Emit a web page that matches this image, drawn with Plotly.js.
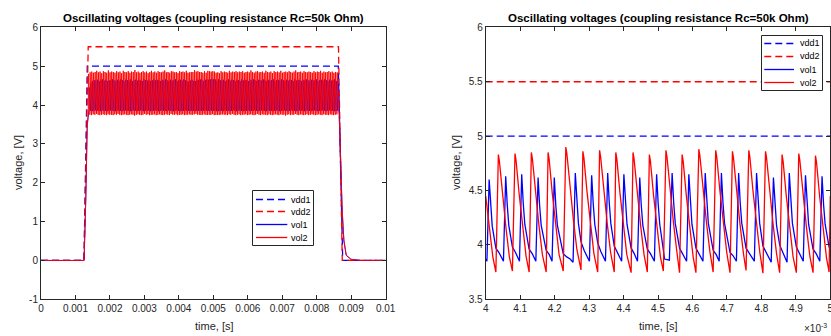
<!DOCTYPE html>
<html><head><meta charset="utf-8">
<script src="https://cdn.plot.ly/plotly-3.0.1.min.js"></script>
<style>html,body{margin:0;padding:0;background:#fff;overflow:hidden}</style>
</head><body><div id="chart" style="width:831px;height:336px"></div>
<script>
// ---------------- DATA ----------------
const titleText = 'Oscillating voltages (coupling resistance Rc=50k Ohm)';
const xLabel = 'time, [s]';
const yLabel = 'voltage, [V]';
const seriesNames = ['vdd1', 'vdd2', 'vol1', 'vol2'];
const leftYTickVals = [-1, 0, 1, 2, 3, 4, 5, 6];
const leftYTickText = ['-1', '0', '1', '2', '3', '4', '5', '6'];
const rightXTickVals = [4, 4.1, 4.2, 4.3, 4.4, 4.5, 4.6, 4.7, 4.8, 4.9, 5];
const rightXTickText = ['4', '4.1', '4.2', '4.3', '4.4', '4.5', '4.6', '4.7', '4.8', '4.9', '5'];
const rightXExponent = '×10<sup>-3</sup>';

// Left panel: full run, time in s
const vdd1T = [0, 0.001247, 0.001343, 0.008625, 0.008753, 0.01];
const vdd1V = [0, 0, 5, 5, 0, 0];
const vdd2T = [0, 0.001247, 0.00137, 0.00863, 0.00874, 0.01];
const vdd2V = [0, 0, 5.5, 5.5, 0, 0];
const volRiseT = [0, 0.00125, 0.00130, 0.00134];
const vol1RiseV = [0, 0, 1.6, 3.5];
const vol2RiseV = [0, 0, 1.6, 3.4];
const volFallT = [0.00865, 0.00869, 0.008738, 0.008787, 0.008855, 0.00899, 0.00925, 0.01];
const vol1FallV = [3.85, 2.55, 1.25, 0.50, 0.13, 0.03, 0, 0];
const vol2FallV = [3.80, 2.60, 1.30, 0.53, 0.14, 0.03, 0, 0];
// oscillation cycles (sample spacing of the oscillation = one period)
const oscStart = 0.00137, oscPeriod = 0.0000481;
const vol2PeakL = [
4.80,4.84,4.86,4.83,4.85,4.88,4.84,4.86,4.82,4.87,4.85,4.83,4.89,4.84,4.86,
4.85,4.83,4.87,4.84,4.86,4.82,4.88,4.85,4.84,4.87,4.83,4.86,4.85,4.90,4.84,
4.86,4.83,4.85,4.87,4.84,4.86,4.82,4.85,4.88,4.84,4.86,4.83,4.87,4.85,4.84,
4.86,4.89,4.84,4.85,4.83,4.87,4.86,4.84,4.85,4.82,4.87,4.85,4.86,4.84,4.88,
4.83,4.84,4.85,4.85,4.90,4.86,4.87,4.85,4.85,4.83,4.87,4.83,4.88,4.87,4.86,
4.87,4.86,4.83,4.84,4.82,4.87,4.84,4.86,4.85,4.83,4.88,4.84,4.86,4.85,4.87,
4.84,4.86,4.85,4.87,4.83,4.85,4.86,4.84,4.89,4.85,4.83,4.86,4.87,4.84,4.85,
4.86,4.83,4.88,4.85,4.84,4.86,4.82,4.87,4.85,4.86,4.84,4.88,4.83,4.85,4.86,
4.84,4.87,4.85,4.83,4.86,4.89,4.84,4.85,4.86,4.83,4.87,4.85,4.84,4.86,4.85,
4.83,4.87,4.84,4.86,4.85,4.88,4.83,4.86,4.84,4.85,4.87,4.84,4.86,4.83,4.85,
4.84];
const vol2TroughL = [
3.76,3.75,3.74,3.76,3.75,3.77,3.75,3.74,3.75,3.76,3.75,3.74,3.76,3.75,3.75,
3.74,3.76,3.75,3.77,3.75,3.74,3.75,3.76,3.75,3.74,3.75,3.76,3.75,3.73,3.75,
3.76,3.75,3.74,3.75,3.77,3.75,3.76,3.74,3.75,3.75,3.76,3.74,3.75,3.76,3.75,
3.74,3.75,3.76,3.75,3.74,3.77,3.75,3.75,3.76,3.74,3.75,3.75,3.76,3.74,3.75,
3.75,3.76,3.75,3.75,3.76,3.77,3.75,3.75,3.745,3.75,3.76,3.745,3.745,3.75,3.745,
3.765,3.74,3.745,3.745,3.745,3.75,3.76,3.75,3.75,3.74,3.76,3.75,3.77,3.75,3.74,
3.75,3.76,3.74,3.75,3.75,3.76,3.74,3.75,3.76,3.75,3.74,3.75,3.77,3.75,3.74,
3.76,3.75,3.75,3.74,3.76,3.75,3.74,3.75,3.76,3.75,3.74,3.76,3.75,3.75,3.73,
3.75,3.76,3.74,3.75,3.75,3.77,3.75,3.74,3.76,3.75,3.74,3.75,3.76,3.74,3.75,
3.76,3.75,3.74,3.75,3.76,3.75,3.74,3.76,3.75,3.75,3.74,3.76,3.75,3.74,3.75,
3.76];
const vol1PeakL = [
4.45,4.58,4.62,4.64,4.63,4.65,4.62,4.64,4.66,4.63,4.65,4.62,4.64,4.63,4.66,
4.64,4.62,4.65,4.63,4.66,4.64,4.62,4.65,4.64,4.63,4.66,4.62,4.64,4.65,4.63,
4.65,4.63,4.62,4.66,4.64,4.63,4.65,4.62,4.64,4.66,4.63,4.65,4.64,4.62,4.65,
4.63,4.66,4.64,4.62,4.65,4.63,4.64,4.66,4.62,4.64,4.65,4.63,4.66,4.64,4.62,
4.60,4.63,4.65,4.62,4.62,4.66,4.64,4.66,4.65,4.62,4.65,4.66,4.65,4.66,4.66,
4.66,4.66,4.62,4.66,4.64,4.63,4.65,4.62,4.64,4.66,4.63,4.65,4.64,4.62,4.65,
4.64,4.62,4.66,4.63,4.65,4.64,4.62,4.65,4.63,4.66,4.64,4.62,4.65,4.64,4.63,
4.66,4.64,4.62,4.65,4.63,4.64,4.66,4.62,4.64,4.65,4.63,4.66,4.64,4.62,4.65,
4.63,4.65,4.64,4.62,4.66,4.63,4.65,4.64,4.62,4.65,4.63,4.66,4.64,4.62,4.65,
4.64,4.63,4.66,4.62,4.64,4.65,4.63,4.66,4.64,4.62,4.65,4.63,4.64,4.66,4.62,
4.64];
const vol1TroughL = [
3.86,3.85,3.84,3.85,3.86,3.85,3.85,3.84,3.86,3.85,3.85,3.84,3.85,3.86,3.85,
3.85,3.84,3.86,3.85,3.85,3.84,3.85,3.86,3.85,3.85,3.84,3.85,3.86,3.85,3.84,
3.85,3.86,3.85,3.84,3.85,3.85,3.86,3.84,3.85,3.85,3.86,3.85,3.84,3.85,3.86,
3.85,3.85,3.84,3.86,3.85,3.85,3.84,3.85,3.86,3.85,3.84,3.85,3.85,3.86,3.85,
3.85,3.85,3.85,3.85,3.84,3.85,3.85,3.85,3.85,3.85,3.86,3.85,3.85,3.85,3.85,
3.85,3.85,3.84,3.84,3.85,3.85,3.84,3.86,3.85,3.85,3.84,3.85,3.86,3.85,3.84,
3.85,3.86,3.85,3.84,3.85,3.85,3.86,3.84,3.85,3.85,3.86,3.85,3.84,3.85,3.86,
3.85,3.85,3.84,3.86,3.85,3.85,3.84,3.85,3.86,3.85,3.84,3.85,3.85,3.86,3.85,
3.84,3.85,3.86,3.85,3.85,3.84,3.85,3.86,3.85,3.85,3.84,3.86,3.85,3.85,3.84,
3.85,3.86,3.85,3.84,3.85,3.85,3.86,3.85,3.84,3.85,3.86,3.85,3.85,3.84,3.85,
3.85];

// Right panel: zoom 4..5 (x10^-3 s)
const vddRT = [4, 5];
const vdd1RV = [5, 5];
const vdd2RV = [5.5, 5.5];
const vol2RT = [
4.0000,4.0107,4.0207,
4.0295,4.0367,4.0397,4.0487,4.0587,4.0687,
4.0775,4.0850,4.0880,4.0970,4.1070,4.1170,
4.1260,4.1325,4.1355,4.1445,4.1545,4.1645,
4.1755,4.1810,4.1840,4.1930,4.2030,4.2130,
4.2250,4.2325,4.2355,4.2445,4.2545,4.2645,
4.2765,4.2820,4.2850,4.2940,4.3040,4.3140,
4.3250,4.3305,4.3335,4.3425,4.3525,4.3625,
4.3730,4.3775,4.3805,4.3895,4.3995,4.4095,
4.4220,4.4275,4.4305,4.4395,4.4495,4.4595,
4.4690,4.4750,4.4780,4.4870,4.4970,4.5070,
4.5155,4.5230,4.5260,4.5350,4.5450,4.5550,
4.5625,4.5700,4.5730,4.5820,4.5920,4.6020,
4.6100,4.6185,4.6215,4.6305,4.6405,4.6505,
4.6600,4.6675,4.6705,4.6795,4.6895,4.6995,
4.7090,4.7160,4.7190,4.7280,4.7380,4.7480,
4.7555,4.7635,4.7665,4.7755,4.7855,4.7955,
4.8045,4.8120,4.8150,4.8240,4.8340,4.8440,
4.8530,4.8600,4.8630,4.8720,4.8820,4.8920,
4.9015,4.9085,4.9115,4.9205,4.9305,4.9405,
4.9500,4.9570,4.9600,4.9690,4.9790,4.9890,
4.9965,5.0000];
const vol2RV = [
4.45,4.16,3.89,
3.75,4.83,4.77,4.46,4.16,3.89,
3.76,4.84,4.78,4.47,4.17,3.90,
3.75,4.85,4.79,4.48,4.18,3.91,
3.75,4.85,4.79,4.48,4.18,3.91,
3.76,4.90,4.84,4.53,4.23,3.96,
3.77,4.86,4.80,4.49,4.19,3.92,
3.75,4.87,4.81,4.50,4.20,3.93,
3.75,4.85,4.79,4.48,4.18,3.91,
3.745,4.85,4.79,4.48,4.18,3.91,
3.75,4.83,4.77,4.46,4.16,3.89,
3.76,4.87,4.81,4.50,4.20,3.93,
3.745,4.83,4.77,4.46,4.16,3.89,
3.745,4.88,4.82,4.51,4.21,3.94,
3.75,4.87,4.81,4.50,4.20,3.93,
3.745,4.86,4.80,4.49,4.19,3.92,
3.765,4.87,4.81,4.50,4.20,3.93,
3.74,4.86,4.80,4.49,4.19,3.92,
3.745,4.83,4.77,4.46,4.16,3.89,
3.745,4.84,4.78,4.47,4.17,3.90,
3.745,4.82,4.76,4.45,4.15,3.88,
3.75,4.45];
const vol1RT = [
4.0000,4.0035,
4.0100,4.0145,4.0190,4.0295,4.0385,4.0515,
4.0580,4.0625,4.0670,4.0775,4.0865,4.0980,
4.1045,4.1090,4.1135,4.1260,4.1350,4.1455,
4.1520,4.1565,4.1610,4.1755,4.1845,4.1925,
4.1990,4.2035,4.2080,4.2250,4.2350,4.2450,4.2535,
4.2600,4.2645,4.2690,4.2765,4.2855,4.3010,
4.3075,4.3120,4.3165,4.3250,4.3340,4.3475,
4.3540,4.3585,4.3630,4.3730,4.3820,4.3945,
4.4010,4.4055,4.4100,4.4220,4.4310,4.4405,
4.4470,4.4515,4.4560,4.4690,4.4780,4.4895,
4.4960,4.5005,4.5050,4.5135,4.5190,4.5330,
4.5410,4.5455,4.5500,4.5625,4.5715,4.5830,
4.5895,4.5940,4.5985,4.6100,4.6190,4.6305,
4.6370,4.6415,4.6460,4.6600,4.6690,4.6775,
4.6840,4.6885,4.6930,4.7090,4.7180,4.7275,
4.7340,4.7385,4.7430,4.7555,4.7645,4.7795,
4.7860,4.7905,4.7950,4.8045,4.8135,4.8285,
4.8350,4.8395,4.8440,4.8530,4.8620,4.8745,
4.8810,4.8855,4.8900,4.9015,4.9105,4.9215,
4.9280,4.9325,4.9370,4.9500,4.9590,4.9695,
4.9760,4.9805,4.9850,4.9965,5.0000];
const vol1RV = [
3.87,3.85,
4.60,4.35,4.17,3.97,3.93,3.85,
4.63,4.37,4.18,3.98,3.93,3.85,
4.65,4.38,4.19,3.96,3.92,3.85,
4.62,4.36,4.18,3.95,3.91,3.85,
4.62,4.36,4.18,3.92,3.89,3.87,3.84,
4.66,4.39,4.20,4.03,3.95,3.85,
4.64,4.38,4.19,4.02,3.94,3.85,
4.66,4.39,4.20,3.99,3.93,3.85,
4.65,4.38,4.19,3.97,3.92,3.85,
4.62,4.36,4.18,3.96,3.92,3.85,
4.65,4.38,4.19,4.00,3.87,3.86,
4.66,4.39,4.20,3.97,3.92,3.85,
4.65,4.38,4.19,3.97,3.92,3.85,
4.66,4.39,4.20,3.95,3.91,3.85,
4.66,4.39,4.20,3.93,3.90,3.85,
4.66,4.39,4.20,3.97,3.92,3.85,
4.66,4.39,4.20,3.99,3.93,3.84,
4.62,4.36,4.18,4.00,3.93,3.84,
4.66,4.39,4.20,3.98,3.92,3.85,
4.64,4.38,4.19,3.96,3.92,3.85,
4.63,4.37,4.19,3.98,3.96];

// ---------------- BUILD ----------------
const BLUE = '#0000FF', RED = '#FF0000', AX = '#262626';
const DASH = '7px,4px';

function buildLeft(riseT, riseV, troughs, peaks, offTrough, offPeak, fallT, fallV) {
  const x = riseT.slice(), y = riseV.slice();
  for (let i = 0; i < peaks.length; i++) {
    const t0 = oscStart + i * oscPeriod;
    x.push(t0 + offTrough); y.push(troughs[i]);
    x.push(t0 + offPeak); y.push(peaks[i]);
  }
  return {x: x.concat(fallT), y: y.concat(fallV)};
}
const v2L = buildLeft(volRiseT, vol2RiseV, vol2TroughL, vol2PeakL, 0, 0.0000065, volFallT, vol2FallV);
const v1L = buildLeft(volRiseT, vol1RiseV, vol1TroughL, vol1PeakL, 0.0000215, 0.000028, volFallT, vol1FallV);

const traces = [
  {x: vdd1T, y: vdd1V, name: seriesNames[0], mode: 'lines', line: {color: BLUE, width: 1.3, dash: DASH}, xaxis: 'x', yaxis: 'y'},
  {x: vdd2T, y: vdd2V, name: seriesNames[1], mode: 'lines', line: {color: RED, width: 1.3, dash: DASH}, xaxis: 'x', yaxis: 'y'},
  {x: v1L.x, y: v1L.y, name: seriesNames[2], mode: 'lines', line: {color: BLUE, width: 0.9}, xaxis: 'x', yaxis: 'y'},
  {x: v2L.x, y: v2L.y, name: seriesNames[3], mode: 'lines', line: {color: RED, width: 0.9}, xaxis: 'x', yaxis: 'y'},
  {x: vddRT, y: vdd1RV, name: seriesNames[0], mode: 'lines', line: {color: BLUE, width: 1.3, dash: DASH}, xaxis: 'x2', yaxis: 'y2'},
  {x: vddRT, y: vdd2RV, name: seriesNames[1], mode: 'lines', line: {color: RED, width: 1.5, dash: DASH}, xaxis: 'x2', yaxis: 'y2'},
  {x: vol1RT, y: vol1RV, name: seriesNames[2], mode: 'lines', line: {color: BLUE, width: 1.3}, xaxis: 'x2', yaxis: 'y2'},
  {x: vol2RT, y: vol2RV, name: seriesNames[3], mode: 'lines', line: {color: RED, width: 1.3}, xaxis: 'x2', yaxis: 'y2'}
];

const W = 831, H = 336;
const px = v => v / W, py = v => 1 - v / H;
const axisStyle = {
  showline: true, mirror: 'ticks', linecolor: AX, linewidth: 1,
  ticks: 'inside', ticklen: 4, tickwidth: 1, tickcolor: AX,
  showgrid: false, zeroline: false, fixedrange: true,
  ticklabeloverflow: 'allow',
  tickfont: {size: 10, color: AX}
};
const yDom = [1 - 299.3 / H, 1 - 27.3 / H];

// custom legends (box + samples + labels)
const shapes = [], annotations = [];
function legend(box, sx0, sx1, tx, rows) {
  shapes.push({type: 'rect', xref: 'paper', yref: 'paper', x0: px(box[0]), x1: px(box[2]), y0: py(box[3]), y1: py(box[1]),
    line: {color: AX, width: 1}, fillcolor: '#fff', layer: 'above'});
  const cols = [BLUE, RED, BLUE, RED];
  const dashes = [DASH, DASH, 'solid', 'solid'];
  rows.forEach((ry, i) => {
    shapes.push({type: 'line', xref: 'paper', yref: 'paper', x0: px(sx0), x1: px(sx1), y0: py(ry), y1: py(ry),
      line: {color: cols[i], width: 1.3, dash: dashes[i]}, layer: 'above'});
    annotations.push({xref: 'paper', yref: 'paper', x: px(tx), y: py(ry), xanchor: 'left', yanchor: 'middle',
      text: seriesNames[i], showarrow: false, font: {size: 9, color: '#000'}});
  });
}
legend([252.5, 190.5, 313.5, 245.5], 256, 287.3, 288.5, [199.5, 211.5, 224.5, 237.5]);
legend([761.5, 35.5, 822.5, 90.5], 764.3, 794, 797.5, [43.5, 56.5, 69.5, 82.5]);

// titles and axis labels
[[213.7], [658]].forEach(([cx]) => {
  annotations.push({xref: 'paper', yref: 'paper', x: px(cx), y: py(17.5), xanchor: 'center', yanchor: 'middle',
    text: '<b>' + titleText + '</b>', showarrow: false, font: {size: 11.5, color: '#000'}});
});
[[214, 18], [658, 456]].forEach(([cx, ly]) => {
  annotations.push({xref: 'paper', yref: 'paper', x: px(cx), y: py(326), xanchor: 'center', yanchor: 'middle',
    text: xLabel, showarrow: false, font: {size: 11, color: AX}});
  annotations.push({xref: 'paper', yref: 'paper', x: px(ly), y: py(163), xanchor: 'center', yanchor: 'middle',
    text: yLabel, textangle: -90, showarrow: false, font: {size: 11, color: AX}});
});
annotations.push({xref: 'paper', yref: 'paper', x: px(802), y: py(328), xanchor: 'left', yanchor: 'middle',
  text: rightXExponent, showarrow: false, font: {size: 10, color: AX}});

const layout = {
  width: W, height: H, margin: {l: 0, r: 0, t: 0, b: 0, pad: 0},
  paper_bgcolor: '#fff', plot_bgcolor: '#fff', showlegend: false,
  font: {family: '"Liberation Sans", Arial, Helvetica, sans-serif', size: 10, color: AX},
  xaxis: Object.assign({domain: [px(41), px(385.7)], range: [0, 0.01], tick0: 0, dtick: 0.001, anchor: 'y'}, axisStyle),
  yaxis: Object.assign({domain: yDom, range: [-1, 6], tickvals: leftYTickVals, ticktext: leftYTickText, anchor: 'x'}, axisStyle),
  xaxis2: Object.assign({domain: [px(485.7), px(830.3)], range: [4, 5], tickvals: rightXTickVals, ticktext: rightXTickText, anchor: 'y2'}, axisStyle),
  yaxis2: Object.assign({domain: yDom, range: [3.5, 6], tick0: 3.5, dtick: 0.5, anchor: 'x2'}, axisStyle),
  shapes: shapes, annotations: annotations
};

Plotly.newPlot('chart', traces, layout, {staticPlot: true, displayModeBar: false});
</script>
</body></html>
